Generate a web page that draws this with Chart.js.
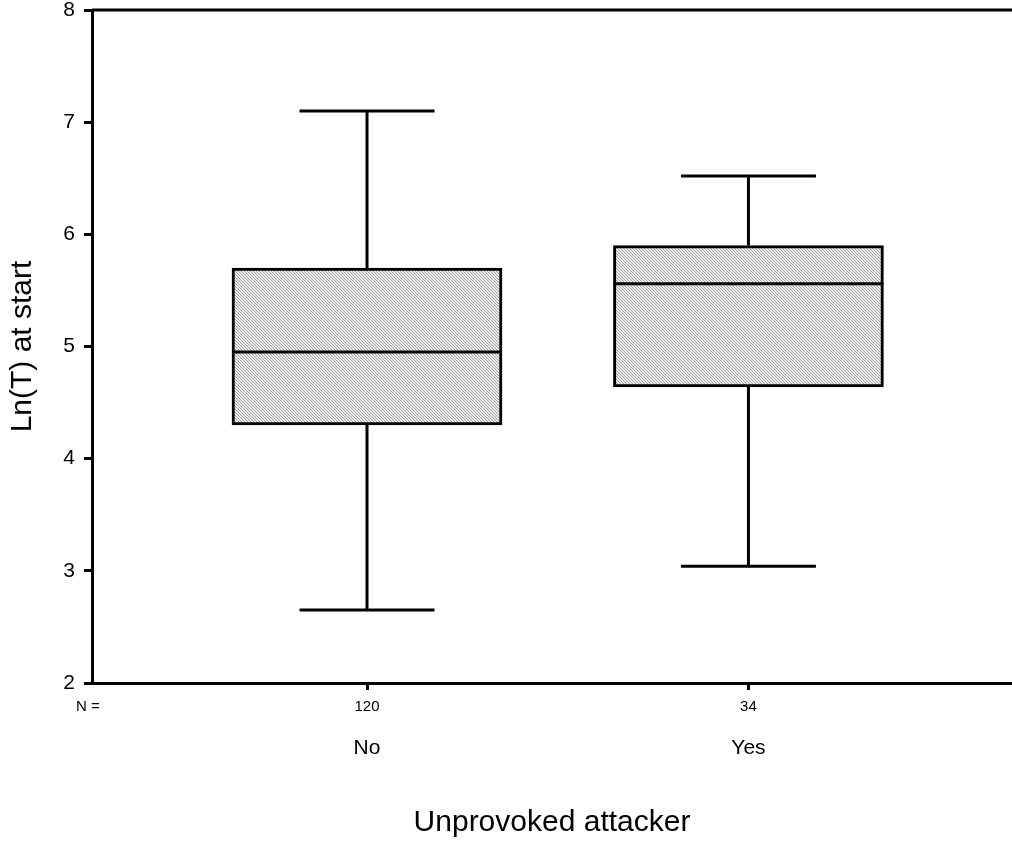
<!DOCTYPE html>
<html>
<head>
<meta charset="utf-8">
<script src="https://cdn.jsdelivr.net/npm/chart.js@4.4.1/dist/chart.umd.min.js"></script>
<style>
html, body { margin: 0; padding: 0; background: #fff; overflow: hidden; }
#wrap { width: 1012px; height: 842px; }
</style>
</head>
<body>
<div id="wrap"><canvas id="chart"></canvas></div>
<script>
// group labels, counts and box-plot statistics
const groups = ['No', 'Yes'];
const groupN = ['120', '34'];
const groupPos = [1, 2];
const lowWhisker = [2.65, 3.04];
const q1 = [4.30, 4.64];
const median = [4.95, 5.56];
const q3 = [5.70, 5.90];
const highWhisker = [7.10, 6.52];
const yTicks = [2, 3, 4, 5, 6, 7, 8];

const FONT = "'Liberation Sans', Arial, sans-serif";
const X_MIN = 0.279;
const X_MAX = 2.691;

const makeHatch = () => {
    const tile = document.createElement('canvas');
    tile.width = 3;
    tile.height = 3;
    const t = tile.getContext('2d');
    t.fillStyle = '#ededed';
    t.fillRect(0, 0, 3, 3);
    t.fillStyle = '#a2a2a2';
    for (let i = 0; i < 3; i++) t.fillRect(i, i, 1, 1);
    return t.createPattern(tile, 'repeat');
};

const boxPlugin = {
    id: 'boxWhiskers',
    beforeDatasetsDraw(chart) {
        const { ctx } = chart;
        const xs = chart.scales.x;
        const ys = chart.scales.y;
        const bars = chart.getDatasetMeta(0).data;
        ctx.save();
        ctx.strokeStyle = '#000';
        ctx.lineWidth = 3;
        ctx.lineCap = 'butt';
        groupPos.forEach((pos, i) => {
            const cx = xs.getPixelForValue(pos);
            const half = bars[i].width / 4;
            const yHi = ys.getPixelForValue(highWhisker[i]);
            const yLo = ys.getPixelForValue(lowWhisker[i]);
            ctx.beginPath();
            ctx.moveTo(cx, ys.getPixelForValue(q3[i]));
            ctx.lineTo(cx, yHi);
            ctx.moveTo(cx, ys.getPixelForValue(q1[i]));
            ctx.lineTo(cx, yLo);
            ctx.moveTo(cx - half, yHi);
            ctx.lineTo(cx + half, yHi);
            ctx.moveTo(cx - half, yLo);
            ctx.lineTo(cx + half, yLo);
            ctx.stroke();
        });
        ctx.restore();
    },
    afterDatasetsDraw(chart) {
        const { ctx, chartArea } = chart;
        const ys = chart.scales.y;
        const bars = chart.getDatasetMeta(0).data;
        ctx.save();
        ctx.strokeStyle = '#000';
        ctx.lineWidth = 3;
        groupPos.forEach((pos, i) => {
            const bar = bars[i];
            const ym = ys.getPixelForValue(median[i]);
            ctx.beginPath();
            ctx.moveTo(bar.x - bar.width / 2, ym);
            ctx.lineTo(bar.x + bar.width / 2, ym);
            ctx.stroke();
        });
        // top frame line
        ctx.beginPath();
        ctx.moveTo(chartArea.left, chartArea.top);
        ctx.lineTo(chartArea.right, chartArea.top);
        ctx.stroke();
        ctx.fillStyle = '#000';
        ctx.font = '15px ' + FONT;
        ctx.textAlign = 'center';
        ctx.textBaseline = 'middle';
        ctx.fillText('N =', chartArea.left - 4, chartArea.bottom + 24);
        ctx.restore();
    },
};

new Chart(document.getElementById('chart'), {
    type: 'bar',
    data: {
        datasets: [{
            data: groupPos.map((pos, i) => ({ x: pos, y: [q1[i], q3[i]] })),
            backgroundColor: makeHatch(),
            borderColor: '#000',
            borderWidth: 3,
            borderSkipped: false,
            barThickness: 270,
        }],
    },
    options: {
        responsive: true,
        maintainAspectRatio: false,
        animation: false,
        devicePixelRatio: 1,
        layout: { padding: { top: 10, left: 0, right: 0, bottom: 0 } },
        plugins: { legend: { display: false }, tooltip: { enabled: false } },
        scales: {
            y: {
                type: 'linear',
                position: 'left',
                min: 2,
                max: 8,
                afterBuildTicks: (s) => { s.ticks = yTicks.map((v) => ({ value: v })); },
                afterFit: (s) => { s.width = 92; s.paddingTop = 0; s.paddingBottom = 0; },
                ticks: { color: '#000', font: { family: FONT, size: 21 }, padding: 9 },
                grid: { drawOnChartArea: false, drawTicks: true, tickLength: 8, color: '#000', lineWidth: 3 },
                border: { display: true, color: '#000', width: 3 },
                title: {
                    display: true,
                    text: 'Ln(T) at start',
                    color: '#000',
                    font: { family: FONT, size: 30 },
                    padding: { top: 5, bottom: 0 },
                },
            },
            x: {
                type: 'linear',
                position: 'bottom',
                weight: 1,
                offset: false,
                min: X_MIN,
                max: X_MAX,
                afterBuildTicks: (s) => { s.ticks = groupPos.map((v) => ({ value: v })); },
                afterFit: (s) => { s.height = 40; },
                ticks: {
                    color: '#000',
                    font: { family: FONT, size: 15 },
                    padding: 8,
                    maxRotation: 0,
                    autoSkip: false,
                    callback: (v) => groupN[groupPos.indexOf(v)],
                },
                grid: { offset: false, drawOnChartArea: false, drawTicks: true, tickLength: 7, color: '#000', lineWidth: 3 },
                border: { display: true, color: '#000', width: 3 },
            },
            xLabels: {
                type: 'linear',
                position: 'bottom',
                weight: 2,
                offset: false,
                min: X_MIN,
                max: X_MAX,
                afterBuildTicks: (s) => { s.ticks = groupPos.map((v) => ({ value: v })); },
                afterFit: (s) => { s.height = 119; },
                ticks: {
                    color: '#000',
                    font: { family: FONT, size: 21 },
                    padding: 5,
                    maxRotation: 0,
                    autoSkip: false,
                    callback: (v) => groups[groupPos.indexOf(v)],
                },
                grid: { display: false, offset: false },
                border: { display: false },
                title: {
                    display: true,
                    text: 'Unprovoked attacker',
                    color: '#000',
                    font: { family: FONT, size: 30 },
                    padding: { top: 0, bottom: 1 },
                },
            },
        },
    },
    plugins: [boxPlugin],
});
</script>
</body>
</html>
